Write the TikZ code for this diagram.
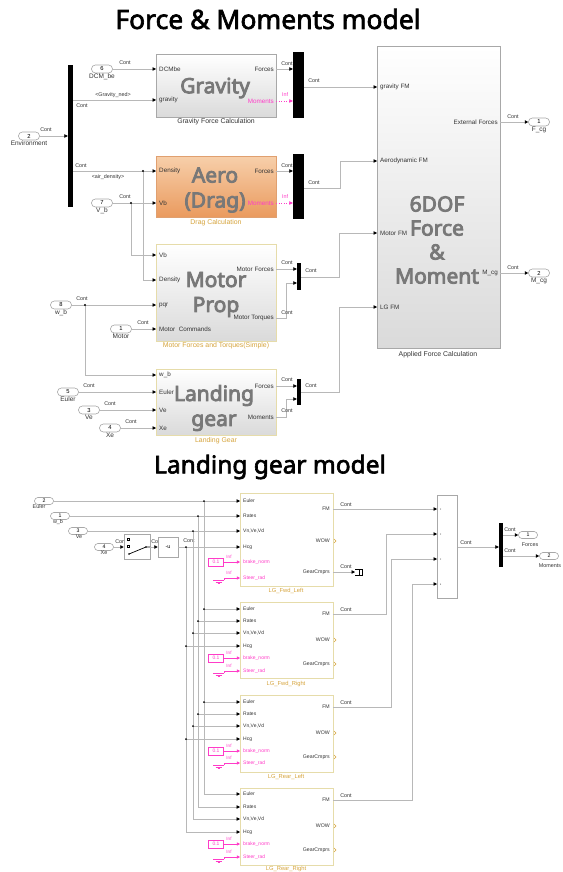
\documentclass[tikz,border=0pt]{standalone}
\usepackage{fontspec}
\usetikzlibrary{arrows.meta,calc}
\newfontfamily\lsans{Liberation Sans}
\newfontfamily\nsans{Noto Sans}[AutoFakeBold=2.5]
\newfontfamily\nsansheavy{Noto Sans}[AutoFakeBold=4]
\newcommand\smf[1]{\lsans\fontsize{#1}{#1}\selectfont}
\newcommand\bigf[2]{\nsans\bfseries\fontsize{#1}{#2}\selectfont}
\newcommand\blkf[2]{\nsansheavy\bfseries\fontsize{#1}{#2}\selectfont}
\definecolor{wirec}{HTML}{B8B8B8}
\definecolor{bordc}{HTML}{A8A8A8}
\definecolor{yelbord}{HTML}{E6DCAA}
\definecolor{blkbot}{HTML}{DADADA}
\definecolor{magc}{HTML}{FF3CC8}
\definecolor{capc}{HTML}{D6A43C}
\definecolor{bigc}{HTML}{787878}
\definecolor{txtc}{HTML}{333333}
\definecolor{orgtop}{HTML}{F7CFAA}
\definecolor{orgbot}{HTML}{EA9A5E}
\definecolor{orgbord}{HTML}{E0A070}
\tikzset{
  wire/.style={draw=wirec, line width=0.6pt},
  tip/.style={-{Triangle[length=3.4pt,width=3.4pt,black]}},
  mwire/.style={draw=magc, line width=0.6pt, dotted, -{Triangle[length=3.4pt,width=3.4pt,magc]}},
  msolid/.style={draw=magc, line width=0.6pt, -{Triangle[length=3.2pt,width=3.2pt,magc]}},
  inp/.style={draw=bordc, line width=0.6pt, fill=white, rounded corners=3.8pt, minimum width=21pt,
    minimum height=8pt, inner sep=0pt, font=\smf{5.8}},
  inps/.style={inp, rounded corners=3.4pt, minimum width=19pt, minimum height=7pt, font=\smf{5.2}},
  plbl/.style={font=\smf{6.5}, text=txtc, inner sep=0.5pt},
  bplbl/.style={font=\smf{5.4}, text=txtc, inner sep=0pt},
  cont/.style={font=\smf{5.4}, text=txtc, inner sep=0pt},
  minf/.style={font=\smf{5.4}, text=magc, inner sep=0pt},
  pin/.style={font=\smf{6.3}, text=txtc, inner sep=0pt, anchor=west},
  pout/.style={font=\smf{6.3}, text=txtc, inner sep=0pt, anchor=east},
  bpin/.style={font=\smf{5}, text=txtc, inner sep=0pt, anchor=west},
  bpout/.style={font=\smf{5.2}, text=txtc, inner sep=0pt, anchor=east},
  blk/.style={draw=bordc, line width=0.7pt, top color=white, bottom color=blkbot, inner sep=0pt, anchor=north west},
  yblk/.style={blk, draw=yelbord},
  lgblk/.style={draw=yelbord, line width=0.7pt, fill=white, inner sep=0pt, anchor=north west,
    minimum width=93pt},
  bar/.style={fill=black, draw=none, inner sep=0pt},
  bigtxt/.style={font=\blkf{21}{25}, text=bigc, align=center, inner sep=0pt},
  capt/.style={font=\smf{6.9}, text=txtc, inner sep=0pt},
  ycapt/.style={font=\smf{6.9}, text=capc, inner sep=0pt},
  jdot/.style={fill=black},
  ttl/.style={font=\bigf{26.5}{28}, text=black, inner sep=0pt},
}
\begin{document}
\begin{tikzpicture}[x=1pt,y=-1pt]
\useasboundingbox (0,0) rectangle (562,872);
\fill[white] (0,0) rectangle (562,872);

% ---------------- Force & Moments model ----------------
\node[ttl] (t1) at (268,19) {Force \& Moments model};

% blocks
\node[blk, minimum width=120pt, minimum height=63pt] (grav) at (156,54) {};
\node[blk, draw=orgbord, top color=orgtop, bottom color=orgbot, minimum width=120pt, minimum height=61pt] (aero) at (156,156) {};
\node[yblk, minimum width=120pt, minimum height=97pt] (motor) at (156,244) {};
\node[yblk, minimum width=120pt, minimum height=66pt] (lg) at (156,369) {};
\node[blk, minimum width=123pt, minimum height=302pt] (fm) at (377,46) {};

% bus selector and muxes
\node[bar, minimum width=5pt, minimum height=142pt] (envbar) at (70.5,136) {};
\node[bar, minimum width=11pt, minimum height=66pt] (gmux) at (298.5,85) {};
\node[bar, minimum width=11pt, minimum height=65pt] (amux) at (298.5,186.5) {};
\node[bar, minimum width=4pt, minimum height=27pt] (mmux) at (299,276.5) {};
\node[bar, minimum width=4pt, minimum height=26pt] (lmux) at (299,392) {};

% port locations
\coordinate (gDCM) at (156,69);  \coordinate (gG) at (156,100);
\coordinate (gF) at (276,69);    \coordinate (gM) at (276,101);
\coordinate (aD) at (156,171);   \coordinate (aV) at (156,203);
\coordinate (aF) at (276,171);   \coordinate (aM) at (276,203);
\coordinate (mV) at (156,255);   \coordinate (mD) at (156,280);
\coordinate (mP) at (156,305);   \coordinate (mC) at (156,329);
\coordinate (mF) at (276,269);   \coordinate (mT) at (276,318);
\coordinate (lW) at (156,375);   \coordinate (lE) at (156,392);
\coordinate (lV) at (156,410);   \coordinate (lX) at (156,428);
\coordinate (lF) at (276,386);   \coordinate (lM) at (276,417);
\coordinate (fG) at (377,87);    \coordinate (fA) at (377,161);
\coordinate (fMo) at (377,233);  \coordinate (fL) at (377,307);
\coordinate (fE) at (500,122);   \coordinate (fC) at (500,273);

% inports / outports
\node[inp, label={[plbl]below:Environment}] (env) at (29,136) {2};
\node[inp, label={[plbl]below:DCM\_be}] (dcm) at (102,69) {6};
\node[inp, label={[plbl]below:V\_b}] (vb) at (102,203) {7};
\node[inp, label={[plbl]below:w\_b}] (wb) at (61,305) {8};
\node[inp, label={[plbl]below:Motor}] (mot) at (121,329) {1};
\node[inp, label={[plbl]below:Euler}] (eul) at (68,392) {5};
\node[inp, label={[plbl]below:Ve}] (ve) at (89,410) {3};
\node[inp, label={[plbl]below:Xe}] (xe) at (110,428) {4};
\node[inp, label={[plbl]below:F\_cg}] (fcg) at (539,122) {1};
\node[inp, label={[plbl]below:M\_cg}] (mcg) at (539,273) {2};

% junctions
\coordinate (jD) at (143,171);
\coordinate (jV) at (131,203);
\coordinate (jW) at (85,305);

% wiring
\draw[wire,tip] (env.east) -- (env.east -| envbar.west);
\draw[wire,tip] (dcm.east) -- (gDCM);
\draw[wire,tip] (envbar.east |- gG) -- (gG);
\draw[wire,tip] (envbar.east |- aD) -- (aD);
\draw[wire,tip] (vb.east) -- (aV);
\draw[wire,tip] (jV) -- (jV |- mV) -- (mV);
\draw[wire,tip] (jD) -- (jD |- mD) -- (mD);
\draw[wire,tip] (wb.east) -- (mP);
\draw[wire,tip] (jW) -- (jW |- lW) -- (lW);
\draw[wire,tip] (mot.east) -- (mC);
\draw[wire,tip] (eul.east) -- (lE);
\draw[wire,tip] (ve.east) -- (lV);
\draw[wire,tip] (xe.east) -- (lX);
\foreach \j in {jD,jV,jW} \fill[jdot] (\j) circle (1.1pt);

\draw[wire,tip] (gF) -- (gF -| gmux.west);
\draw[mwire] (gM) -- (gM -| gmux.west);
\draw[wire,tip] (gmux.east |- fG) -- (fG);
\draw[wire,tip] (aF) -- (aF -| amux.west);
\draw[mwire] (aM) -- (aM -| amux.west);
\draw[wire,tip] (amux.east |- 0,188) -- (340,188) -- (340,161) -- (fA);
\draw[wire,tip] (mF) -- (mF -| mmux.west);
\draw[wire,tip] (mT) -- (286,318) -- (286,283) -- (mmux.west |- 0,283);
\draw[wire,tip] (mmux.east |- 0,277) -- (339,277) -- (339,233) -- (fMo);
\draw[wire,tip] (lF) -- (lF -| lmux.west);
\draw[wire,tip] (lM) -- (286,417) -- (286,399) -- (lmux.west |- 0,399);
\draw[wire,tip] (lmux.east |- 0,392) -- (339,392) -- (339,307) -- (fL);
\draw[wire,tip] (fE) -- (fcg.west);
\draw[wire,tip] (fC) -- (mcg.west);

% signal labels
\node[cont] at (46,130) {Cont};
\node[cont] at (125,63) {Cont};
\node[cont] at (113,95) {<Gravity\_ned>};
\node[cont] at (82,106) {Cont};
\node[cont] at (81,166) {Cont};
\node[cont] at (108,177) {<air\_density>};
\node[cont] at (125,197) {Cont};
\node[cont] at (82,299) {Cont};
\node[cont] at (143,323) {Cont};
\node[cont] at (89,386) {Cont};
\node[cont] at (110,404) {Cont};
\node[cont] at (131,422) {Cont};
\node[cont] at (287,64) {Cont};
\node[minf] at (285,95) {Inf};
\node[cont] at (314,81) {Cont};
\node[cont] at (287,166) {Cont};
\node[minf] at (285,197) {Inf};
\node[cont] at (314,183) {Cont};
\node[cont] at (287,263) {Cont};
\node[cont] at (287,313) {Cont};
\node[cont] at (311,271) {Cont};
\node[cont] at (287,380) {Cont};
\node[cont] at (287,411) {Cont};
\node[cont] at (311,386) {Cont};
\node[cont] at (513,117) {Cont};
\node[cont] at (513,268) {Cont};

% port names
\node[pin] at (159,69) {DCMbe};
\node[pin] at (159,100) {gravity};
\node[pout] at (274,69) {Forces};
\node[pout, text=magc] at (274,101) {Moments};
\node[pin] at (159,171) {Density};
\node[pin] at (159,203) {Vb};
\node[pout] at (274,171) {Forces};
\node[pout, text=magc] at (274,203) {Moments};
\node[pin] at (159,255) {Vb};
\node[pin] at (159,280) {Density};
\node[pin] at (159,305) {pqr};
\node[pin] at (159,329) {Motor\ \ Commands};
\node[pout] at (274,269) {Motor Forces};
\node[pout] at (274,318) {Motor Torques};
\node[pin] at (159,375) {w\_b};
\node[pin] at (159,392) {Euler};
\node[pin] at (159,410) {Ve};
\node[pin] at (159,428) {Xe};
\node[pout] at (274,386) {Forces};
\node[pout] at (274,417) {Moments};
\node[pin] at (380,87) {gravity FM};
\node[pin] at (380,161) {Aerodynamic FM};
\node[pin] at (380,233) {Motor FM};
\node[pin] at (380,307) {LG FM};
\node[pout] at (498,122) {External Forces};
\node[pout] at (498,273) {M\_cg};

% captions
\node[capt] at (216,122) {Gravity Force Calculation};
\node[ycapt] at (216,223) {Drag Calculation};
\node[ycapt] at (216,346) {Motor Forces and Torques(Simple)};
\node[ycapt] at (216,441) {Landing Gear};
\node[capt] at (438,355) {Applied Force Calculation};

% block titles
\node[bigtxt] at (215,88) {Gravity};
\node[bigtxt] at (215,190) {Aero\\(Drag)};
\node[bigtxt] at (216,294.5) {Motor\\Prop};
\node[bigtxt] at (214,408) {Landing\\gear};
\node[bigtxt, font=\blkf{21}{24}] at (437,240) {6DOF\\Force\\\&\\Moment};

% ---------------- Landing gear model ----------------
\node[ttl, font=\bigf{24.5}{26}] (t2) at (270,467) {Landing gear model};

% landing gear units
\node[lgblk, minimum height=93pt] (lg1) at (240,493) {};
\node[lgblk, minimum height=76pt] (lg2) at (240,602) {};
\node[lgblk, minimum height=77pt] (lg3) at (240,695) {};
\node[lgblk, minimum height=77pt] (lg4) at (240,788) {};
\node[ycapt, font=\smf{5.8}] at (286,591) {LG\_Fwd\_Left};
\node[ycapt, font=\smf{5.8}] at (286,684) {LG\_Fwd\_Right};
\node[ycapt, font=\smf{5.8}] at (286,777) {LG\_Rear\_Left};
\node[ycapt, font=\smf{5.8}] at (286,869) {LG\_Rear\_Right};

% sum and demux
\node[draw=bordc, line width=0.6pt, fill=white, minimum width=20pt, minimum height=103pt, inner sep=0pt, anchor=north west] (sum) at (437,495) {};
\node[bar, minimum width=4pt, minimum height=44pt] (dmx) at (501,545) {};

% inports
\node[inps, label={[bplbl,xshift=-5pt]below:Euler}] (beul) at (44,501) {2};
\node[inps, label={[bplbl,xshift=-2pt]below:w\_b}] (bwb) at (60,516) {1};
\node[inps, label={[bplbl,xshift=1pt]below:Ve}] (bve) at (78,531) {3};
\node[inps, label={[bplbl]below:Xe}] (bxe) at (104,547) {4};
\node[inps] (bfo) at (528,535) {1};
\node[inps] (bmo) at (549,556) {2};
\node[bplbl] at (530,545) {Forces};
\node[bplbl] at (550,566) {Moments};

% signal names before the switch and gain (partly covered by them)
\node[cont] at (121,542) {Cont};
\node[cont] at (157,542) {Cont};

% switch and gain
\node[draw=bordc, line width=0.6pt, fill=white, minimum width=26pt, minimum height=25pt, inner sep=0pt] (sw) at (137,546.5) {};
\draw[line width=0.4pt] (127.5,538) rectangle (129.5,540);
\draw[line width=0.4pt] (127.5,545.5) rectangle (129.5,547.5);
\fill (129,554) circle (0.9pt);
\fill (146,547) circle (0.9pt);
\draw[line width=0.7pt] (129,554) -- (146,547) -- (150,547);
\node[draw=bordc, line width=0.6pt, fill=white, minimum width=20pt, minimum height=20pt, inner sep=0pt, font=\smf{5.4}] (gain) at (168,547) {-u};

% unit port coordinates
\foreach \n/\a/\b/\c/\d/\e/\f/\o/\w/\g in
  {1/501/516/531/547/562/578/509/541/572,
   2/609/621/633/646/658/671/614/640/664,
   3/702/714/726/739/751/763/707/733/757,
   4/794/807/819/832/844/857/800/826/850}{
  \coordinate (u\n e) at (240,\a);
  \coordinate (u\n r) at (240,\b);
  \coordinate (u\n v) at (240,\c);
  \coordinate (u\n h) at (240,\d);
  \coordinate (u\n b) at (240,\e);
  \coordinate (u\n s) at (240,\f);
  \coordinate (u\n fm) at (333,\o);
  \coordinate (u\n wo) at (333,\w);
  \coordinate (u\n gc) at (333,\g);
  \node[bpin] at (243,\a) {Euler};
  \node[bpin] at (243,\b) {Rates};
  \node[bpin] at (243,\c) {Vn,Ve,Vd};
  \node[bpin] at (243,\d) {Hcg};
  \node[bpin, text=magc] at (243,\e) {brake\_norm};
  \node[bpin, text=magc] at (243,\f) {Steer\_rad};
  \node[bpout] at (330,\o) {FM};
  \node[bpout] at (330,\w) {WOW};
  \node[bpout] at (330,\g) {GearCmprs};
  % brake command and steering ground
  \node[draw=magc, line width=0.6pt, fill=white, minimum width=15pt, minimum height=8pt, inner sep=0pt,
        font=\smf{5}, text=magc] (k\n) at (216,\e) {0.1};
  \draw[msolid] (k\n.east) -- (u\n b);
  \node[minf, font=\smf{4.6}] at (229,\e-5) {Inf};
  \coordinate (gnd\n) at (224,\f);
  \draw[msolid] (gnd\n) -- (u\n s);
  \node[minf, font=\smf{4.6}] at (229,\f-5) {Inf};
  \draw[magc, line width=0.5pt] (213,\f+2) -- (224,\f+2) (215.5,\f+3.8) -- (221.5,\f+3.8) (217.5,\f+5.6) -- (219.5,\f+5.6);
  \draw[magc, line width=0.5pt] (224,\f) -- (224,\f+2);
}

% unconnected outputs
\foreach \n in {1,2,3,4}{
  \draw[draw=capc, line width=0.6pt] ($(u\n wo)+(1,-2)$) -- ($(u\n wo)+(3,0)$) -- ($(u\n wo)+(1,2)$);
}
\foreach \n in {2,3,4}{
  \draw[draw=capc, line width=0.6pt] ($(u\n gc)+(1,-2)$) -- ($(u\n gc)+(3,0)$) -- ($(u\n gc)+(1,2)$);
}

% shared input buses
\coordinate (ve) at (204,501);
\coordinate (vr) at (198,516);
\coordinate (vv) at (193,531);
\coordinate (vh) at (186,547);
\draw[wire,tip] (beul.east) -- (u1e);
\draw[wire,tip] (bwb.east) -- (u1r);
\draw[wire,tip] (bve.east) -- (u1v);
\draw[wire,tip] (bxe.east) -- (sw.west |- bxe);
\draw[wire,tip] (sw.east |- 0,547) -- (gain.west |- 0,547);
\draw[wire,tip] (gain.east |- 0,547) -- (u1h);
\node[cont] at (189,541) {Cont};
\draw[wire,tip] (ve) -- (ve |- u4e) -- (u4e);
\draw[wire,tip] (vr) -- (vr |- u4r) -- (u4r);
\draw[wire,tip] (vv) -- (vv |- u4v) -- (u4v);
\draw[wire,tip] (vh) -- (vh |- u4h) -- (u4h);
\foreach \n in {2,3}{
  \draw[wire,tip] (ve |- u\n e) -- (u\n e);
  \draw[wire,tip] (vr |- u\n r) -- (u\n r);
  \draw[wire,tip] (vv |- u\n v) -- (u\n v);
  \draw[wire,tip] (vh |- u\n h) -- (u\n h);
  \fill[jdot] (ve |- u\n e) circle (1pt);
  \fill[jdot] (vr |- u\n r) circle (1pt);
  \fill[jdot] (vv |- u\n v) circle (1pt);
  \fill[jdot] (vh |- u\n h) circle (1pt);
}
\foreach \j in {ve,vr,vv,vh} \fill[jdot] (\j) circle (1pt);

% force/moment outputs into the sum
\coordinate (s1) at (437,509);
\coordinate (s2) at (437,534);
\coordinate (s3) at (437,559);
\coordinate (s4) at (437,584);
\draw[wire,tip] (u1fm) -- (s1);
\draw[wire,tip] (u2fm) -- (386,614) -- (386,534) -- (s2);
\draw[wire,tip] (u3fm) -- (391,707) -- (391,559) -- (s3);
\draw[wire,tip] (u4fm) -- (412,800) -- (412,584) -- (s4);
\foreach \s in {s1,s2,s3,s4} \fill[black!70] ($(\s)+(3.5,0)$) circle (0.5pt);
\foreach \y in {505,610,703,796} \node[cont] at (346,\y) {Cont};

% gear compression terminator
\coordinate (term) at (355,572);
\draw[wire,tip] (u1gc) -- (term);
\node[cont] at (346,567) {Cont};
\draw[line width=0.5pt] (355,569) -- (362,569) -- (362,575) -- (355,575);
\draw[line width=0.5pt] (359,569) -- (359,575);

% sum to demux to outports
\draw[wire,tip] (sum.east |- 0,547) -- (dmx.west |- 0,547);
\node[cont] at (466,543) {Cont};
\draw[wire,tip] (dmx.east |- bfo) -- (bfo.west);
\draw[wire,tip] (dmx.east |- bmo) -- (bmo.west);
\node[cont] at (510,530) {Cont};
\node[cont] at (510,551) {Cont};
\end{tikzpicture}
\end{document}
